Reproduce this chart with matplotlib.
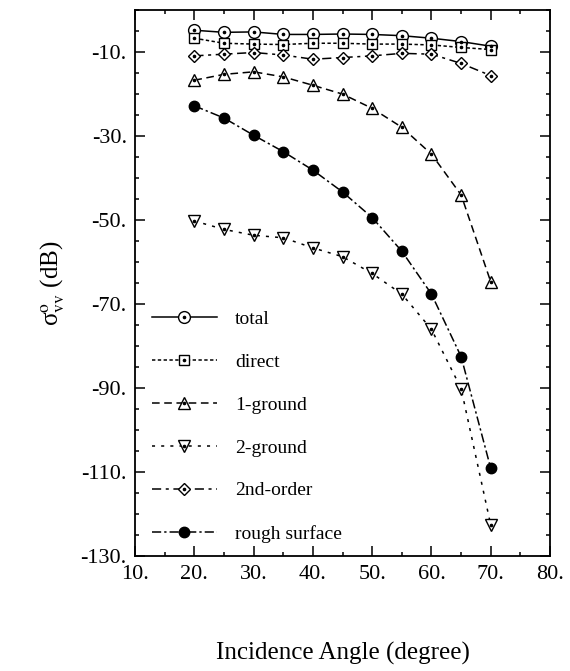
import numpy as np
import matplotlib
matplotlib.use('Agg')
import matplotlib.pyplot as plt
from matplotlib.ticker import MultipleLocator, FuncFormatter

plt.rcParams['font.family'] = ['Liberation Serif', 'DejaVu Serif']
plt.rcParams['mathtext.fontset'] = 'stix'

angles = [20, 25, 30, 35, 40, 45, 50, 55, 60, 65, 70]

total = [-4.8, -5.3, -5.2, -5.8, -5.8, -5.7, -5.8, -6.1, -6.7, -7.5, -8.6]
direct = [-6.7, -7.9, -8.1, -8.2, -7.9, -7.9, -8.1, -8.1, -8.3, -8.9, -9.4]
ground1 = [-16.7, -15.3, -14.7, -15.9, -17.9, -20.0, -23.4, -27.9, -34.3, -44.0, -64.7]
ground2 = [-50.2, -52.2, -53.6, -54.2, -56.6, -58.7, -62.7, -67.6, -76.0, -90.1, -122.6]
second_order = [-10.9, -10.5, -10.1, -10.7, -11.7, -11.3, -10.9, -10.3, -10.5, -12.7, -15.6]
rough = [-22.8, -25.7, -29.8, -33.7, -38.1, -43.3, -49.4, -57.4, -67.6, -82.5, -109.1]

labels = ['total', 'direct', '1-ground', '2-ground', '2nd-order', 'rough surface']

fig = plt.figure(figsize=(5.7, 6.71), dpi=100)
ax = fig.add_axes([0.237, 0.171, 0.728, 0.814])

styles = [
    (total, 'o', '-', 8.5, 'white'),
    (direct, 's', (0, (2.2, 1.6)), 7.5, 'white'),
    (ground1, '^', (0, (5, 3)), 8.5, 'white'),
    (ground2, 'v', (0, (2, 4)), 8.5, 'white'),
    (second_order, 'D', (0, (6, 3, 2, 3)), 6.4, 'white'),
    (rough, 'o', (0, (6, 2, 1.5, 2)), 7.5, 'black'),
]

handles = []
for (vals, mk, ls, ms, fc), lab in zip(styles, labels):
    ln, = ax.plot(angles, vals, linestyle=ls, color='black', lw=1.1,
                  marker=mk, ms=ms, mfc=fc, mec='black', mew=1.0,
                  zorder=3)
    if fc == 'white':
        # little dot in the middle of the open symbols
        dot, = ax.plot(angles, vals, linestyle='none', marker='o', ms=1.6,
                       color='black', zorder=4)
        handles.append((ln, dot))
    else:
        handles.append(ln)

ax.set_xlim(10, 80)
ax.set_ylim(-130, 0)
ax.set_xticks(np.arange(10, 81, 10))
ax.set_yticks(np.arange(-130, -9, 20))
ax.xaxis.set_minor_locator(MultipleLocator(5))
ax.yaxis.set_minor_locator(MultipleLocator(5))
fmt = FuncFormatter(lambda v, p: '%d.' % v)
ax.xaxis.set_major_formatter(fmt)
ax.yaxis.set_major_formatter(fmt)
ax.tick_params(which='both', direction='in', top=True, right=True,
               labelsize=16, width=1.1)
ax.tick_params(which='major', length=7, pad=6)
ax.tick_params(which='minor', length=3)
for sp in ax.spines.values():
    sp.set_linewidth(1.3)

ax.set_xlabel('Incidence Angle (degree)', fontsize=18, labelpad=42)
ax.set_ylabel(r'σ$^{\mathrm{o}}_{\mathrm{vv}}$ (dB)', fontsize=18, labelpad=10)

ax.legend(handles=handles, labels=labels, loc='lower left',
          bbox_to_anchor=(0.04, 0.025), frameon=False, fontsize=14,
          handlelength=3.35, handletextpad=0.93, labelspacing=1.3,
          borderpad=0, borderaxespad=0, numpoints=1)

fig.savefig('out.png', dpi=100)
